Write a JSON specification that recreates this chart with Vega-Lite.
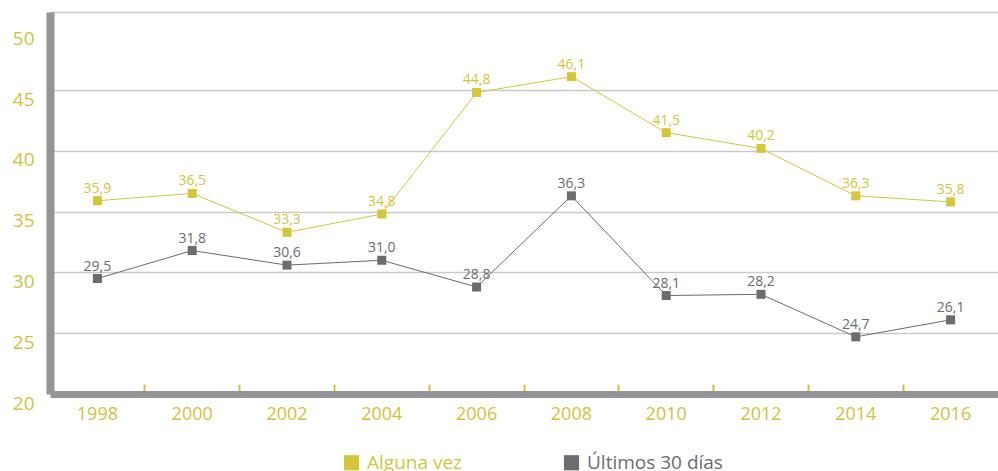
{
  "$schema": "https://vega.github.io/schema/vega-lite/v6.json",
  "width": 948,
  "height": 382,
  "autosize": "none",
  "padding": {"left": 50, "top": 12, "right": 0, "bottom": 77},
  "background": "white",
  "config": {
    "view": {"stroke": null},
    "locale": {"number": {"decimal": ",", "thousands": ".", "grouping": [3], "currency": ["", " €"]}}
  },
  "data": {
    "values": [
      {"year": "1998", "series": "Alguna vez", "value": 35.9},
      {"year": "2000", "series": "Alguna vez", "value": 36.5},
      {"year": "2002", "series": "Alguna vez", "value": 33.3},
      {"year": "2004", "series": "Alguna vez", "value": 34.8},
      {"year": "2006", "series": "Alguna vez", "value": 44.8},
      {"year": "2008", "series": "Alguna vez", "value": 46.1},
      {"year": "2010", "series": "Alguna vez", "value": 41.5},
      {"year": "2012", "series": "Alguna vez", "value": 40.2},
      {"year": "2014", "series": "Alguna vez", "value": 36.3},
      {"year": "2016", "series": "Alguna vez", "value": 35.8},
      {"year": "1998", "series": "Últimos 30 días", "value": 29.5},
      {"year": "2000", "series": "Últimos 30 días", "value": 31.8},
      {"year": "2002", "series": "Últimos 30 días", "value": 30.6},
      {"year": "2004", "series": "Últimos 30 días", "value": 31.0},
      {"year": "2006", "series": "Últimos 30 días", "value": 28.8},
      {"year": "2008", "series": "Últimos 30 días", "value": 36.3},
      {"year": "2010", "series": "Últimos 30 días", "value": 28.1},
      {"year": "2012", "series": "Últimos 30 días", "value": 28.2},
      {"year": "2014", "series": "Últimos 30 días", "value": 24.7},
      {"year": "2016", "series": "Últimos 30 días", "value": 26.1}
    ]
  },
  "encoding": {
    "x": {
      "field": "year", "type": "ordinal",
      "scale": {"type": "band", "paddingInner": 0, "paddingOuter": 0},
      "axis": {
        "title": null, "labelAngle": 0, "grid": false,
        "bandPosition": 0,
        "tickColor": "#cfc33d", "tickSize": -10, "tickWidth": 2,
        "domainColor": "#939398", "domainWidth": 7,
        "labelPadding": 21, "labelFontSize": 18, "labelFont": "Open Sans",
        "labelColor": "#cfc33d"
      }
    },
    "y": {
      "field": "value", "type": "quantitative",
      "scale": {"domain": [20, 51.42], "nice": false, "zero": false},
      "axis": {
        "title": null,
        "values": [20, 25, 30, 35, 40, 45, 50, 51.42],
        "labelExpr": "datum.value > 51 ? '' : datum.label",
        "gridColor": {"condition": {"test": "datum.value == 50 || datum.value == 20", "value": "transparent"}, "value": "#c9c9c9"},
        "gridWidth": 1.5,
        "ticks": false,
        "domainColor": "#939398", "domainWidth": 8,
        "labelColor": "#cfc33d", "labelFontSize": 19, "labelFont": "Open Sans",
        "labelBaseline": "top", "labelPadding": 16
      }
    },
    "color": {
      "field": "series", "type": "nominal",
      "scale": {"domain": ["Alguna vez", "Últimos 30 días"], "range": ["#d3c63b", "#6b6b70"]},
      "legend": {
        "title": null, "orient": "none", "direction": "horizontal",
        "legendX": 292, "legendY": 441,
        "symbolType": "square", "symbolSize": 230, "symbolStrokeWidth": 0,
        "labelFontSize": 19, "labelFont": "Open Sans", "labelOffset": 6,
        "columnPadding": 100,
        "encode": {
          "symbols": {"update": {"fill": {"scale": "color", "field": "value"}, "stroke": {"value": "transparent"}, "shape": {"value": "square"}, "opacity": {"value": 1}}},
          "labels": {"update": {"fill": {"scale": "color", "field": "value"}}}
        }
      }
    }
  },
  "layer": [
    {"mark": {"type": "line", "strokeWidth": 1}},
    {"mark": {"type": "point", "shape": "square", "filled": true, "size": 81, "opacity": 1}},
    {"mark": {"type": "text", "dy": -12, "fontSize": 14, "font": "Open Sans"},
     "encoding": {"text": {"field": "value", "type": "quantitative", "format": ".1f"}}}
  ]
}
